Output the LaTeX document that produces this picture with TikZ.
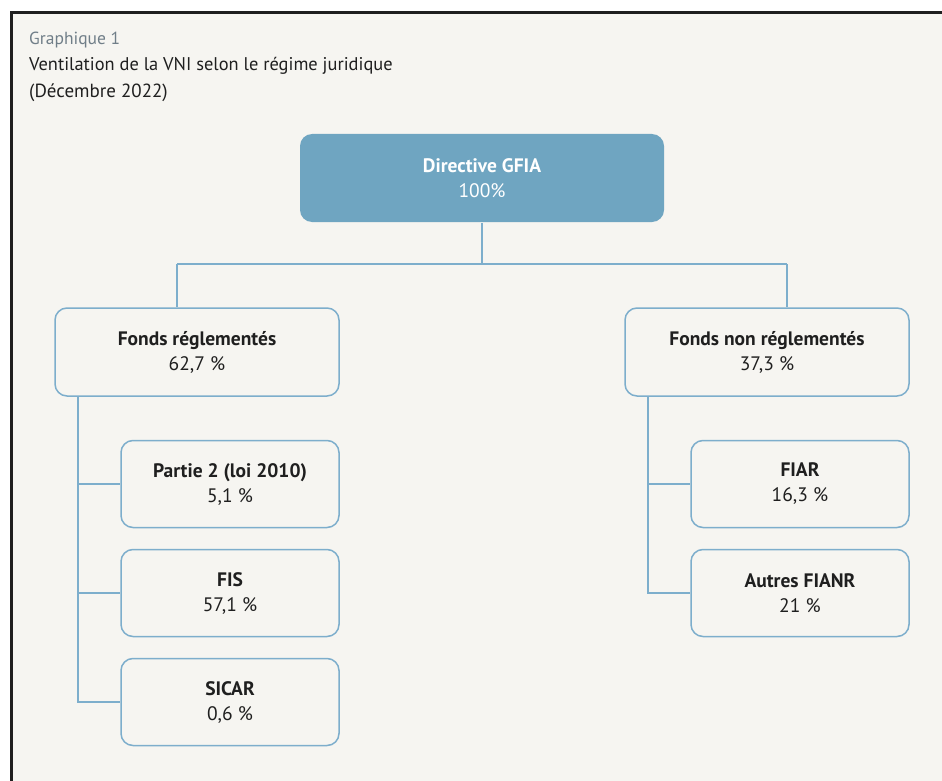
\documentclass[tikz,border=0pt]{standalone}
\usepackage{fontspec}
\setmainfont{PT Sans}
\definecolor{paper}{HTML}{F6F5F1}
\definecolor{frameblue}{HTML}{7DAECC}
\definecolor{topblue}{HTML}{6FA5C1}
\definecolor{titlegray}{HTML}{707E88}
\definecolor{ink}{HTML}{1F1F1F}
\tikzset{
  fundbox/.style={draw=frameblue, line width=1.5pt, fill=paper, rounded corners=12pt,
    minimum width=218pt, minimum height=87pt, align=center, text=ink,
    font=\fontsize{19.5}{25}\selectfont},
  link/.style={draw=frameblue, line width=1.5pt}
}
\begin{document}
\begin{tikzpicture}[x=1pt,y=-1pt]
  \useasboundingbox (0,0) rectangle (942,781);
  % page and frame
  \fill[paper] (11,13) rectangle (942,781);
  \draw[line width=3pt, color=ink] (942,13) -- (11,13) -- (11,781);

  % titles
  \node[anchor=base west, inner sep=0pt, text=titlegray, font=\fontsize{17.5}{17.5}\selectfont]
    (graph) at (29,45) {Graphique 1};
  \node[anchor=base west, inner sep=0pt, text=ink, font=\fontsize{18.4}{18.4}\selectfont]
    (title) at (29,71) {Ventilation de la VNI selon le régime juridique};
  \node[anchor=base west, inner sep=0pt, text=ink, font=\fontsize{19}{19}\selectfont]
    (date) at (29,98) {(Décembre 2022)};

  % boxes
  \node[fundbox, fill=topblue, draw=none, text=white, minimum width=364pt, minimum height=88pt]
    (gfia) at (482,178) {\textbf{Directive GFIA}\\100\%};
  \node[fundbox, minimum width=284pt, minimum height=88pt]
    (freg) at (197,352) {\textbf{Fonds réglementés}\\62,7 \%};
  \node[fundbox, minimum width=284pt, minimum height=88pt]
    (fnreg) at (767,352) {\textbf{Fonds non réglementés}\\37,3 \%};
  \node[fundbox] (partie) at (230,484) {\textbf{Partie 2 (loi 2010)}\\5,1 \%};
  \node[fundbox] (fis) at (230,593) {\textbf{FIS}\\57,1 \%};
  \node[fundbox] (sicar) at (230,702) {\textbf{SICAR}\\0,6 \%};
  \node[fundbox] (fiar) at (800,484) {\textbf{FIAR}\\16,3 \%};
  \node[fundbox] (autres) at (800,593) {\textbf{Autres FIANR}\\21 \%};

  % connectors
  \coordinate (jl) at (177,264);
  \coordinate (jr) at (787,264);
  \coordinate (tl) at (78,0);
  \coordinate (tr) at (648,0);
  \draw[link] (gfia.south) -- (gfia.south |- jl);
  \draw[link] (jl) -- (jr);
  \draw[link] (jl) -- (jl |- freg.north);
  \draw[link] (jr) -- (jr |- fnreg.north);
  \draw[link] (tl |- freg.south) |- (sicar.west);
  \draw[link] (tl |- partie.west) -- (partie.west);
  \draw[link] (tl |- fis.west) -- (fis.west);
  \draw[link] (tr |- fnreg.south) |- (autres.west);
  \draw[link] (tr |- fiar.west) -- (fiar.west);
\end{tikzpicture}
\end{document}
